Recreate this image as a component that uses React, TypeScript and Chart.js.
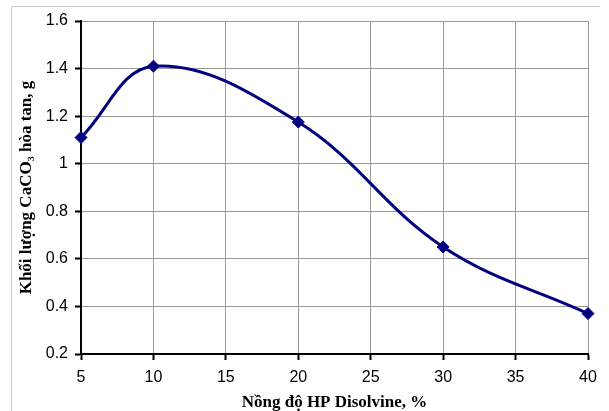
import React, { useEffect, useRef } from "react";
import { Chart, registerables } from "chart.js";

Chart.register(...registerables);

const concentrations = [5, 10, 20, 30, 40];
const dissolvedMass = [1.11, 1.41, 1.175, 0.65, 0.37];
const xTitle = "Nồng độ HP Disolvine, %";
const yTitle = "Khối lượng CaCO₃ hòa tan, g";

const framePlugin = {
  id: "frame",
  beforeDraw(chart: any) {
    const ctx = chart.ctx;
    ctx.save();
    ctx.strokeStyle = "#c8c8c8";
    ctx.lineWidth = 1;
    ctx.beginPath();
    ctx.moveTo(600, 6.5);
    ctx.lineTo(11.5, 6.5);
    ctx.lineTo(11.5, 411);
    ctx.stroke();
    ctx.restore();
  },
};

export default function App() {
  const ref = useRef<HTMLCanvasElement | null>(null);
  useEffect(() => {
    document.body.style.margin = "0";
    const canvas = ref.current!;
    const chart = new Chart(canvas, {
      type: "line",
      data: {
        datasets: [
          {
            data: concentrations.map((x, i) => ({ x, y: dissolvedMass[i] })),
            borderColor: "#000080",
            backgroundColor: "#000080",
            borderWidth: 3,
            tension: 0.38,
            pointStyle: "rectRot",
            pointRadius: 6,
            pointBorderWidth: 1,
            pointBackgroundColor: "#000080",
            pointBorderColor: "#000080",
            clip: false as any,
          },
        ],
      },
      options: {
        animation: false,
        responsive: false,
        devicePixelRatio: 1,
        layout: { padding: { left: 0, top: 21, right: 21, bottom: 0 } },
        plugins: { legend: { display: false }, tooltip: { enabled: false } },
        scales: {
          x: {
            type: "linear",
            min: 5,
            max: 40,
            ticks: {
              stepSize: 5,
              color: "#000",
              padding: 8,
              font: { family: "Liberation Sans", size: 16 },
            },
            grid: { color: "#999", tickColor: "#000", tickLength: 6, tickWidth: 2 },
            border: { color: "#000", width: 2 },
            title: {
              display: true,
              text: xTitle,
              color: "#000",
              font: { family: "Liberation Serif", size: 17, weight: "bold", lineHeight: 1.0 },
              padding: { top: 0, bottom: 0 },
            },
            afterFit(scale: any) {
              scale.height = 57;
            },
          },
          y: {
            min: 0.2,
            max: 1.6,
            ticks: {
              stepSize: 0.2,
              color: "#000",
              padding: 7,
              font: { family: "Liberation Sans", size: 16 },
              callback: (v: any) => String(Number(Number(v).toFixed(1))),
            },
            grid: { color: "#999", tickColor: "#000", tickLength: 6, tickWidth: 2 },
            border: { color: "#000", width: 2 },
            title: {
              display: true,
              text: yTitle,
              color: "#000",
              font: { family: "Liberation Serif", size: 17, weight: "bold", lineHeight: 1.2 },
              padding: { top: 16, bottom: 0 },
            },
            afterFit(scale: any) {
              scale.width = 81;
            },
          },
        },
      },
      plugins: [framePlugin],
    });
    return () => chart.destroy();
  }, []);
  return (
    <div style={{ width: 609, height: 411 }}>
      <canvas ref={ref} width={609} height={411} style={{ display: "block" }} />
    </div>
  );
}
